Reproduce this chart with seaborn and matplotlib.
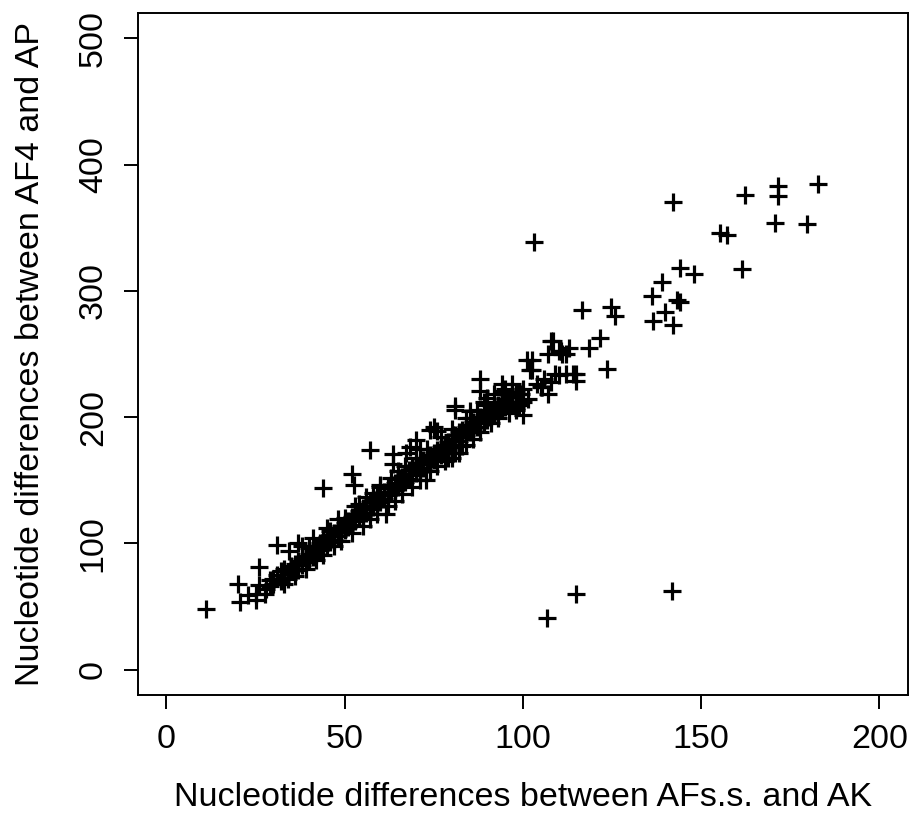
import numpy as np
import pandas as pd
import matplotlib
matplotlib.use("Agg")
import matplotlib.pyplot as plt
import seaborn as sns

# values (x = AFs.s. vs AK, y = AF4 vs AP)
diff_afss_ak = [
    11, 20, 20.5, 23, 25, 25, 26, 26, 27.5, 28, 29, 29, 30, 30, 31, 31, 32, 32, 33, 33,
    34, 34, 34.5, 35, 35, 36, 36, 37, 37, 37, 38, 38, 39, 39, 40, 40, 40, 41, 41, 42,
    42, 43, 43, 43.9, 44, 44, 45, 45, 46, 46, 46, 47, 47, 48, 48, 49, 49, 50, 50, 50,
    51, 51, 51.9, 52, 52, 52.7, 53, 53, 54, 54, 54, 55, 55, 56, 56, 57, 57, 57, 58, 58,
    58, 59, 59, 60, 60, 60, 61, 61, 61.7, 62, 62, 63, 63, 63.5, 63.5, 64, 64, 65, 65, 65,
    66, 66, 67, 67, 67.3, 68, 68, 68.2, 69, 69, 70, 70, 70.1, 71, 71, 71, 72, 72, 72.9, 73,
    73, 73.8, 74, 74, 75, 75, 75, 75.8, 76, 76, 77, 77, 78, 78, 78, 79, 79, 80, 80, 80,
    80.5, 81, 81, 81, 81, 82, 82, 82, 83, 83, 84, 84, 84, 85, 85, 85, 85.3, 86, 86, 87,
    87, 88, 88, 88, 88, 89, 89, 90, 90, 90, 90, 90.5, 91, 91, 92, 92, 93, 93, 94, 94,
    94, 94, 95, 95, 96, 96, 97, 97, 98, 98, 99, 99, 99.5, 100, 100, 100, 101, 101.4, 102, 102.4,
    102.4, 103, 104, 105, 105.2, 106, 106.6, 107, 107.1, 108, 108, 108.5, 109, 110, 110, 110.6, 111, 112, 112, 113,
    114, 114.8, 114.8, 115, 116.6, 118.5, 121.7, 123.7, 124.7, 125.9, 136.1, 136.5, 139, 139.9, 141.7, 142.1, 142.1, 143.2, 144, 144.1,
    148.1, 155.4, 157.3, 161.4, 162.2, 170.6, 171.4, 171.4, 179.7, 182.8,
    # lower and upper edge of the dense band
    33, 36, 39, 42, 44, 47, 49, 52, 55, 57, 59, 62, 64, 66, 69, 71, 74, 76, 79, 81,
    83, 86, 88, 91, 93, 96, 98,
    38, 41, 45, 48, 53, 56, 60, 63, 67, 70, 73, 77, 80, 84, 87, 89, 92, 95, 97,
]
diff_af4_ap = [
    48, 68, 54, 59, 60, 55, 81, 67, 60, 64, 71, 66, 72, 68, 99, 75, 70, 78, 73, 80,
    76, 72, 94, 82, 78, 84, 80, 100, 86, 79, 88, 83, 90, 85, 92, 88, 96, 94, 89, 98,
    92, 100, 95, 144, 103, 97, 105, 99, 107, 101, 110, 108, 103, 112, 106, 114, 109, 116, 111, 120,
    118, 113, 155, 121, 115, 146, 123, 118, 126, 120, 131, 128, 122, 130, 124, 174, 133, 127, 135, 129,
    140, 137, 131, 139, 133, 145, 141, 135, 123, 144, 138, 146, 140, 171, 163, 148, 142, 151, 145, 157,
    153, 147, 155, 149, 172, 158, 151, 176, 160, 154, 162, 156, 182, 175, 164, 158, 166, 160, 150, 168,
    163, 190, 170, 165, 192, 172, 166, 189, 174, 168, 176, 170, 178, 172, 165, 180, 174, 183, 176, 168,
    186, 209, 206, 186, 178, 188, 181, 172, 190, 184, 192, 186, 178, 194, 188, 205, 199, 196, 190, 198,
    192, 230, 221, 200, 195, 202, 196, 204, 198, 215, 210, 200, 206, 200, 208, 202, 210, 204, 226, 221,
    212, 206, 214, 208, 216, 210, 218, 212, 220, 206, 218, 210, 218, 222, 212, 202, 245, 214, 237, 245,
    237, 339, 226, 224, 224, 230, 41, 218, 250, 260, 228, 260, 234, 252, 233, 252, 250, 234, 250, 255,
    234, 234, 229, 60, 285, 255, 263, 238, 287, 280, 296, 276, 307, 283, 62, 273, 370, 293, 318, 291,
    313, 346, 344, 317, 376, 354, 383, 375, 353, 385,
    68, 74, 80, 87, 91, 98, 102, 108, 114, 119, 123, 130, 134, 139, 145, 150, 157, 161, 168, 172,
    177, 183, 188, 195, 199, 203, 207,
    98, 104, 112, 119, 130, 137, 146, 152, 161, 168, 175, 184, 191, 199, 206, 212, 218, 222, 226,
]

x_ticks = [0, 50, 100, 150, 200]
y_ticks = [0, 100, 200, 300, 400, 500]

df = pd.DataFrame({"x": diff_afss_ak, "y": diff_af4_ap})

sns.set_style("white")
plt.rcParams["font.family"] = ["Liberation Sans", "DejaVu Sans"]
plt.rcParams["text.color"] = "black"
plt.rcParams["axes.labelcolor"] = "black"
plt.rcParams["xtick.color"] = "black"
plt.rcParams["ytick.color"] = "black"

fig = plt.figure(figsize=(9.1, 8.14), dpi=100)
ax = fig.add_axes([0.1516, 0.1462, 0.8462, 0.8378])

# '+' markers like R's pch=3
sns.scatterplot(data=df, x="x", y="y", marker="+", s=150, color="black",
                linewidth=2.3, ax=ax, legend=False)

ax.set_xlim(-8, 208)
ax.set_ylim(-20, 520)
ax.set_xticks(x_ticks)
ax.set_yticks(y_ticks)
ax.set_yticklabels([str(v) for v in y_ticks], rotation=90, va="center")

for s in ax.spines.values():
    s.set_color("black")
    s.set_linewidth(1.4)

ax.tick_params(axis="both", direction="out", length=10, width=1.4, colors="black",
               labelsize=24.5, bottom=True, left=True)
ax.tick_params(axis="x", pad=11)
ax.tick_params(axis="y", pad=11)

ax.set_xlabel("Nucleotide differences between AFs.s. and AK", fontsize=24.5, color="black")
ax.set_ylabel("Nucleotide differences between AF4 and AP", fontsize=24.5, color="black")
ax.xaxis.label.set_va("center")
ax.yaxis.label.set_va("center")
ax.xaxis.set_label_coords(0.5, -0.151)
ax.yaxis.set_label_coords(-0.139, 0.5)

fig.savefig("out.png", dpi=100, facecolor="white")
